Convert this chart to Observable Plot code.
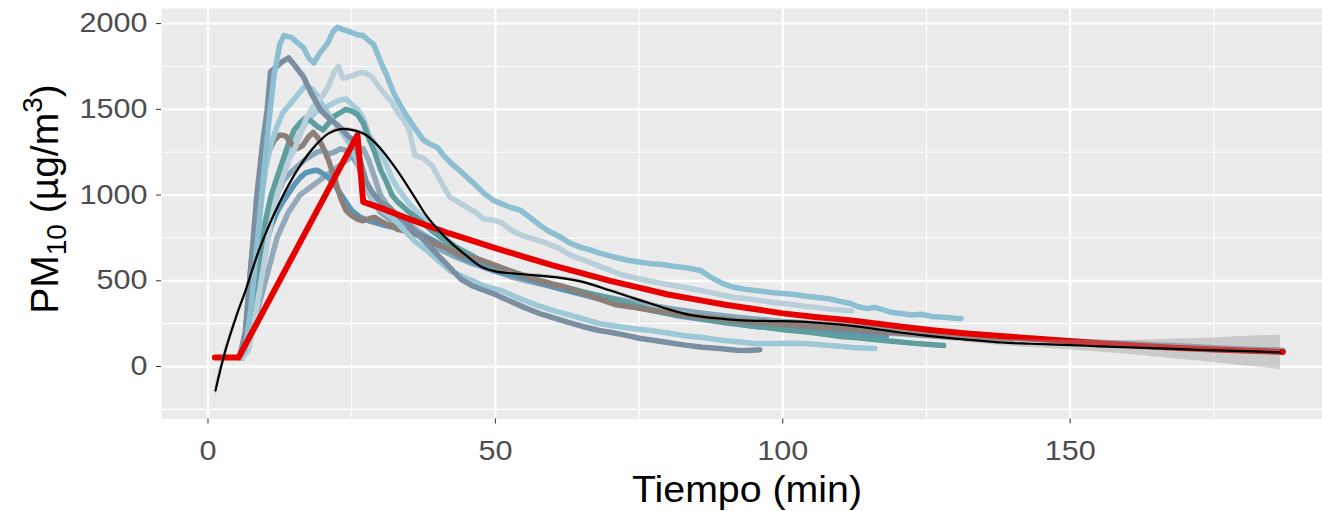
<!DOCTYPE html>
<html><head><meta charset="utf-8">
<script src="https://cdn.jsdelivr.net/npm/d3@7"></script>
<script src="https://cdn.jsdelivr.net/npm/@observablehq/plot@0.6"></script>
<style>body{margin:0;background:#fff;} svg{display:block;}</style>
</head><body><div id="chart"></div>
<script>
// ---- axis ticks ----
const xTicks = [0, 50, 100, 150];
const xMinor = [25, 75, 125, 175];
const yTicks = [0, 500, 1000, 1500, 2000];
const yMinor = [-250, 250, 750, 1250, 1750];

// ---- measured series: [time (min), PM10 (µg/m3)] ----
const serieA = [[5.5,50],[6.5,100],[7.5,350],[8.5,700],[9.5,1050],[10.5,1400],[11.5,1700],[12.5,1880],[13.2,1930],[14.5,1920],[15.5,1890],[16.6,1860],[17.5,1800],[18.4,1770],[19.5,1830],[20.8,1885],[21.7,1950],[22.5,1978],[23.5,1965],[24.8,1950],[26,1935],[27,1930],[28,1900],[28.8,1880],[30,1780],[31.2,1690],[32.3,1595],[33.5,1520],[34.7,1455],[36,1390],[37.5,1320],[38.5,1300],[39.9,1278],[41,1230],[42.5,1180],[43.9,1140],[45,1105],[46.5,1060],[48,1010],[49.7,968],[51,950],[52.5,930],[54.4,910],[56,870],[57.5,830],[59,795],[61,760],[63,720],[64.8,695],[66.5,680],[68.3,660],[70.5,640],[73,620],[75,610],[77,600],[79,595],[81,585],[83.5,575],[85.7,560],[87.5,520],[89.5,485],[91.5,462],[93.5,450],[96,440],[98,432],[100,426],[102,420],[104,410],[106,403],[108,395],[110,380],[111.8,368],[113,350],[114.7,338],[116,345],[117.5,330],[119,315],[120.5,309],[122.5,300],[124,305],[126,292],[128,288],[130,282],[131,280]];
const serieB = [[5.5,50],[6.5,200],[7.5,600],[8.5,1000],[9.5,1300],[10.3,1500],[10.9,1720],[12,1750],[13,1780],[14,1800],[15,1760],[16.6,1690],[18,1590],[19.6,1495],[21,1450],[23,1395],[24.5,1340],[25.4,1320],[26.5,1200],[27.5,1080],[28.5,1020],[30,960],[31.5,930],[33,880],[34.5,840],[36,790],[38,720],[40,650],[42,580],[44,510],[46,470],[48,445],[50,420],[52,390],[55,345],[58,305],[60,285],[63,255],[65,235],[68,210],[70,200],[73,180],[75,165],[78,150],[80,140],[83,125],[86,112],[89,105],[92,95],[94,93],[96,98]];
const serieC = [[6,50],[7,90],[8,250],[9,450],[10,650],[11,850],[12,1000],[13,1100],[14,1200],[15,1260],[16,1350],[17,1440],[18,1500],[19,1550],[20,1580],[21,1640],[22,1720],[22.7,1750],[23.5,1680],[24.5,1690],[25.5,1700],[26.5,1715],[27.5,1710],[28.5,1690],[30,1620],[31,1580],[32,1540],[33,1480],[34,1440],[35,1380],[36,1230],[37.5,1215],[39,1170],[40.5,1080],[42,990],[43.5,960],[45,930],[46.5,900],[48,860],[49.5,855],[51,840],[53,790],[55,760],[57,740],[59,718],[61,690],[63,650],[65,625],[67,600],[70,560],[72,535],[74,519],[76,505],[78,490],[80,478],[83,461],[85,448],[87,435],[89,420],[91.5,403],[94,395],[96,385],[98,375],[100,368],[102,360],[104,350],[106,345],[108,335],[110,330],[112,325]];
const serieD = [[6,50],[7,150],[8,400],[9,650],[10,850],[11,1000],[12,1100],[13,1200],[14,1300],[15,1380],[16,1420],[17,1450],[18,1430],[19,1400],[20,1380],[21,1420],[22,1460],[23,1480],[24,1500],[25,1490],[26,1470],[27,1420],[28,1330],[29,1250],[30,1150],[31,1080],[32,1000],[33,960],[35,900],[37,850],[39,790],[41,740],[43,700],[45,660],[48,610],[51,570],[54,540],[57,510],[60,480],[63,455],[66,430],[69,405],[72,380],[75,350],[78,325],[81,305],[84,290],[88,268],[91,255],[95,235],[98,225],[100,215],[103,205],[105,198],[108,185],[110,175],[113,168],[115,160],[118,150],[120,145],[123,135],[125,130],[128,122]];
const serieE = [[5.5,50],[6.5,200],[7.5,600],[8.5,900],[9.5,1100],[10.5,1250],[11.5,1320],[12.5,1350],[13.5,1345],[14.5,1300],[15.5,1270],[16.5,1290],[17.5,1340],[18.3,1365],[19,1340],[20,1280],[21,1200],[22,1100],[23,990],[24,910],[25,880],[26,860],[27,850],[28,862],[29,870],[30,850],[31,830],[32,822],[33,800],[35,785],[37,760],[39,720],[41,700],[43,665],[45,640],[47,625],[48,615],[50,590],[52,565],[55,530],[57,505],[60,480],[62,465],[65,430],[68,395],[71,360],[74,345],[77,330],[80,315],[83,300],[86,290],[90,275],[94,260],[97,252],[100,245],[104,235],[109,225],[113,215],[117,200],[120,195],[125,182],[130,172],[135,165],[140,158]];
const serieF = [[6,50],[7,150],[8,350],[9,550],[10,700],[11,820],[12,900],[13,960],[14,1010],[15,1060],[16,1100],[17,1130],[18,1140],[19,1145],[20,1125],[21,1100],[22,1060],[23,1010],[24,960],[25,910],[26.5,870],[28,850],[30,830],[32.4,811],[34,800],[35.5,790],[38,753],[40,720],[41,700],[43,660],[44,640],[46,610],[48,580],[50,555],[52,540],[55,515],[58,485],[61,455],[64,430],[67,405],[70,380],[73,355],[76,335],[79,315],[82,295],[86,275],[90,255],[95,235],[100,220],[105,205],[110,195],[115,180],[118,175]];
const serieG = [[6,50],[7,250],[8,600],[9,900],[10,1150],[11,1300],[12,1400],[13,1480],[14,1520],[15,1560],[16,1600],[17,1640],[18,1620],[19,1580],[20,1520],[21,1470],[22,1420],[23,1380],[24,1330],[25,1280],[26,1200],[27,1100],[28,1020],[29,960],[30,920],[32,870],[34,800],[36,730],[38,680],[40,620],[42,560],[44,530],[46,500],[48,470],[51,443],[54,400],[57,360],[60,327],[63,300],[66,270],[68,251],[71,235],[74,220],[77,210],[80,195],[83,180],[86,169],[89,155],[92,145],[95,134],[98,134],[101,136],[104,134],[107,125],[110,118],[112,111],[114,108],[116,105]];
const serieH = [[6,50],[7,150],[8,350],[9,550],[10,750],[11,900],[12,1000],[13,1080],[14,1120],[15,1150],[16,1180],[17,1210],[18,1230],[19,1250],[20,1260],[21,1240],[22,1250],[23,1270],[24,1260],[25,1230],[26,1180],[27,1100],[28,1010],[29,950],[30,900],[32,850],[34,820],[36,780],[38,730],[40,690],[43,640],[46,600],[50,560],[55,510],[60,470],[65,435],[70,400],[75,370],[80,340],[85,315],[90,295],[95,278],[100,262],[105,250],[110,238],[115,225],[120,210],[125,195],[130,182],[135,172],[140,165],[145,158],[150,150],[155,142],[160,135],[165,125],[170,118],[175,110],[180,102],[184,98],[187,95]];
const serieI = [[6,50],[7,120],[8,300],[9,520],[10,720],[11,880],[12,1000],[13,1120],[14,1220],[15,1300],[16,1360],[17,1420],[18,1460],[19,1490],[20,1500],[21,1520],[22,1540],[23,1555],[24,1560],[25,1530],[26,1500],[27,1450],[28,1350],[29,1300],[30,1250],[31,1180],[32,1100],[33,1040],[35,950],[37,880],[39,820],[41,760],[43,700],[46,650],[48,600],[51,570],[55,520],[58,490],[62,450],[66,410],[70,380],[75,350],[80,320],[86,290],[92,260],[98,240],[105,220],[112,205],[120,190],[125,180],[130,170]];
const serieJ = [[6,50],[8,250],[10,500],[12,750],[14,900],[16,1000],[18,1050],[20,1100],[22,1150],[24,1200],[26,1250],[27,1270],[28,1200],[29,1100],[30,1000],[32,900],[34,850],[37,780],[40,720],[44,650],[48,580],[53,520],[58,480],[64,440],[70,400],[76,355],[82,320],[90,290],[100,260],[110,230],[120,205],[125,190]];

const serieNames  = ["J","H","I","F","D","E","G","C","B","A"];
const serieColors = ["#93AABB","#88A6B9","#A7CCDA","#5B95B8","#5E9E9F","#8B7F78","#9CC8D7","#B9D0DB","#7B8FA2","#8CBFD1"];
const serieValues = [serieJ, serieH, serieI, serieF, serieD, serieE, serieG, serieC, serieB, serieA];

// ---- red model line ----
const modelT = [1.2,5.3,26,27,30,35,42,50,55,60,65,70,75,80,85,90,95,100,106,112,120,126,132,139,145,153,161,168,175,181,187];
const modelV = [52,52,1350,960,925,860,776,690,640,590,545,500,460,420,390,360,335,310,288,268,235,212,193,175,160,140,122,110,100,92,85];

// ---- smooth fit (black) with confidence band ----
const fitT  = [1.3,3,5,6.5,9,12.5,16,19,21,23,25,27.5,30,33,36,38,40.4,42.5,44.5,47.4,50,53,57,61,65,70,73,77,80,84,90,94,98,103,108,112,116,120,125,130,138,143,150,155,161,167,172,177,182,186.6];
const fitV  = [-140,90,300,440,690,960,1170,1300,1360,1385,1380,1350,1272,1140,985,880,785,715,659,585,555,543,532,519,495,443,410,368,335,300,277,268,265,262,250,237,220,200,180,163,140,133,125,118,111,104,98,93,88,82];
const fitSE = [40,28,20,15,12,11,10,10,10,10,10,10,10,10,10,10,10,10,10,10,10,10,10,10,10,10,10,10,10,10,10,10,10,11,12,12,13,14,15,16,18,22,28,33,42,55,65,78,90,100];

// ---- build tables ----
const rows = serieValues.flatMap((pts, i) => pts.map(([t, v]) => ({serie: serieNames[i], t, v})));
const modelRows = modelT.map((t, i) => ({t, v: modelV[i]}));
const fitRows = fitT.map((t, i) => ({t, v: fitV[i], lo: fitV[i] - fitSE[i], hi: fitV[i] + fitSE[i]}));

const chart = Plot.plot({
  width: 1322, height: 511,
  marginLeft: 161, marginRight: 0, marginTop: 8, marginBottom: 92.5,
  style: {fontFamily: "'Liberation Sans', Arial, sans-serif", background: "white", overflow: "hidden"},
  x: {domain: [-8.09, 193.9]},
  y: {domain: [-306, 2088]},
  color: {domain: serieNames, range: serieColors},
  marks: [
    Plot.frame({fill: "#EBEBEB", stroke: null}),
    Plot.ruleX(xMinor, {stroke: "white", strokeWidth: 1.1}),
    Plot.ruleY(yMinor, {stroke: "white", strokeWidth: 1.1}),
    Plot.ruleX(xTicks, {stroke: "white", strokeWidth: 2.2}),
    Plot.ruleY(yTicks, {stroke: "white", strokeWidth: 2.2}),
    Plot.line(rows, {x: "t", y: "v", z: "serie", stroke: "serie", strokeWidth: 5.5, strokeLinejoin: "round"}),
    Plot.line(modelRows, {x: "t", y: "v", stroke: "#E60000", strokeWidth: 6, strokeLinejoin: "round"}),
    Plot.areaY(fitRows, {x: "t", y1: "lo", y2: "hi", fill: "#999999", fillOpacity: 0.4, curve: "catmull-rom"}),
    Plot.line(fitRows, {x: "t", y: "v", stroke: "black", strokeWidth: 2.2, curve: "catmull-rom"}),
    Plot.axisX({ticks: xTicks, tickSize: 5, tickPadding: 17, fontSize: 27, tickFormat: d => String(d), color: "#4D4D4D", stroke: "#333333", label: null}),
    Plot.axisY({ticks: yTicks, tickSize: 5, tickPadding: 9, fontSize: 27, tickFormat: d => String(d), color: "#4D4D4D", stroke: "#333333", label: null})
  ]
});
document.getElementById("chart").appendChild(chart);

// widen tick labels to the reference's proportions
d3.select(chart).selectAll("g[aria-label='x-axis tick label'] text, g[aria-label='y-axis tick label'] text")
  .each(function() {
    const n = this.textContent.length;
    d3.select(this).attr("textLength", n * 17).attr("lengthAdjust", "spacingAndGlyphs");
  });

// axis titles
const svg = d3.select(chart);
svg.append("text")
  .attr("x", 747).attr("y", 502)
  .attr("text-anchor", "middle").attr("font-size", 36).attr("fill", "black")
  .attr("textLength", 230).attr("lengthAdjust", "spacingAndGlyphs")
  .text("Tiempo (min)");
const yt = svg.append("text")
  .attr("transform", "translate(58,199) rotate(-90)")
  .attr("text-anchor", "middle").attr("font-size", 39).attr("fill", "black");
yt.append("tspan").text("PM");
yt.append("tspan").attr("font-size", 28).attr("dy", 8).text("10");
yt.append("tspan").attr("dy", -8).text(" (µg/m");
yt.append("tspan").attr("font-size", 28).attr("dy", -16).text("3");
yt.append("tspan").attr("dy", 16).text(")");
</script>
</body></html>
